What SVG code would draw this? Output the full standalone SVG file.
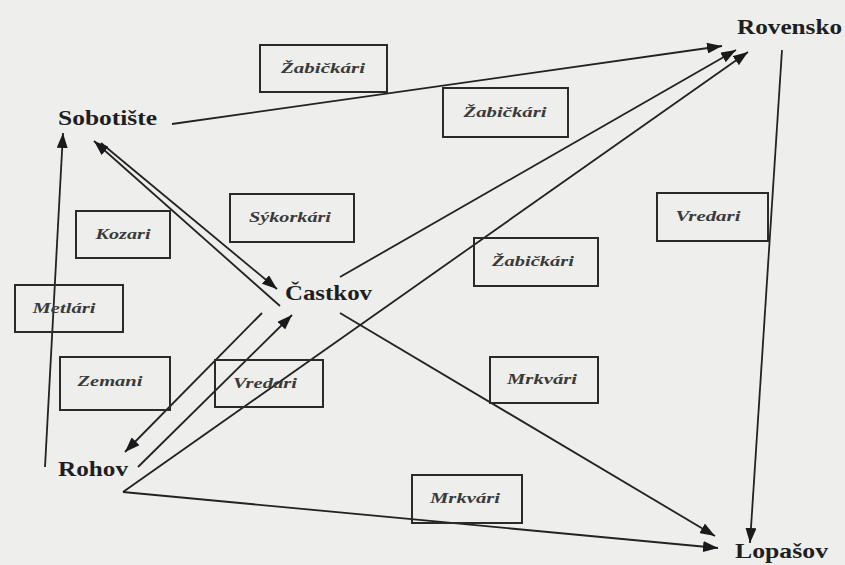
<svg xmlns="http://www.w3.org/2000/svg" width="845" height="565" viewBox="0 0 845 565">
<style>
.bg{fill:#eeeeec}
.box{fill:none;stroke:#2a2a2a;stroke-width:2}
.lbl{font-family:"Liberation Serif","DejaVu Serif",serif;font-style:italic;font-weight:bold;font-size:14px;fill:#3a3a3a;text-anchor:middle}
.node{font-family:"Liberation Serif","DejaVu Serif",serif;font-weight:bold;font-size:21px;fill:#1e1e1e}
.edge{stroke:#222;stroke-width:1.8;fill:none}
.arr{stroke:#222;stroke-width:1.8;fill:none;marker-end:url(#ah)}
</style>
<defs>
<marker id="ah" markerUnits="userSpaceOnUse" markerWidth="16" markerHeight="11" refX="15" refY="5.5" orient="auto">
<path d="M0,0 L15,5.5 L0,11 z" fill="#1a1a1a"/>
</marker>
</defs>
<rect class="bg" x="0" y="0" width="845" height="565"/>

<g id="connectors">
<line class="arr" x1="172" y1="124" x2="722" y2="46"/>
<line class="arr" x1="340" y1="277" x2="736" y2="50"/>
<line class="arr" x1="123" y1="492" x2="748" y2="52"/>
<line class="arr" x1="138" y1="467" x2="292" y2="315"/>
<line class="arr" x1="262" y1="313" x2="125" y2="452"/>
<line class="arr" x1="101" y1="143" x2="277" y2="289"/>
<line class="arr" x1="280" y1="306" x2="94" y2="141"/>
<line class="arr" x1="45" y1="467" x2="63" y2="133"/>
<line class="arr" x1="782" y1="50" x2="750" y2="543"/>
<line class="arr" x1="340" y1="313" x2="715" y2="536"/>
<line class="arr" x1="123" y1="492" x2="718" y2="548"/>
</g>

<g id="n-sobotiste"><text class="node" x="58" y="125" textLength="99" lengthAdjust="spacingAndGlyphs">Sobotište</text></g>
<g id="n-rovensko"><text class="node" x="737" y="34" textLength="105" lengthAdjust="spacingAndGlyphs">Rovensko</text></g>
<g id="n-castkov"><text class="node" x="285" y="300" textLength="87" lengthAdjust="spacingAndGlyphs">Častkov</text></g>
<g id="n-rohov"><text class="node" x="58" y="476" textLength="70" lengthAdjust="spacingAndGlyphs">Rohov</text></g>
<g id="n-lopasov"><text class="node" x="735" y="558" textLength="93" lengthAdjust="spacingAndGlyphs">Lopašov</text></g>

<g id="b-zabickari1"><rect class="box" x="260" y="45" width="127" height="47"/><text class="lbl" x="323" y="73" textLength="84" lengthAdjust="spacingAndGlyphs">Žabičkári</text></g>
<g id="b-zabickari2"><rect class="box" x="443" y="88" width="125" height="49"/><text class="lbl" x="505" y="117" textLength="83" lengthAdjust="spacingAndGlyphs">Žabičkári</text></g>
<g id="b-sykorkari"><rect class="box" x="230" y="194" width="124" height="48"/><text class="lbl" x="290" y="222" textLength="82" lengthAdjust="spacingAndGlyphs">Sýkorkári</text></g>
<g id="b-kozari"><rect class="box" x="76" y="211" width="94" height="47"/><text class="lbl" x="123" y="239" textLength="55" lengthAdjust="spacingAndGlyphs">Kozari</text></g>
<g id="b-metlari"><rect class="box" x="15" y="285" width="108" height="47"/><text class="lbl" x="64" y="313" textLength="63" lengthAdjust="spacingAndGlyphs">Metlári</text></g>
<g id="b-vredari1"><rect class="box" x="657" y="193" width="111" height="48"/><text class="lbl" x="708" y="221" textLength="65" lengthAdjust="spacingAndGlyphs">Vredari</text></g>
<g id="b-zabickari3"><rect class="box" x="474" y="238" width="124" height="48"/><text class="lbl" x="533" y="266" textLength="82" lengthAdjust="spacingAndGlyphs">Žabičkári</text></g>
<g id="b-mrkvari1"><rect class="box" x="490" y="357" width="108" height="46"/><text class="lbl" x="542" y="384" textLength="70" lengthAdjust="spacingAndGlyphs">Mrkvári</text></g>
<g id="b-zemani"><rect class="box" x="60" y="357" width="110" height="53"/><text class="lbl" x="110" y="386" textLength="65" lengthAdjust="spacingAndGlyphs">Zemani</text></g>
<g id="b-vredari2"><rect class="box" x="215" y="360" width="108" height="47"/><text class="lbl" x="265" y="388" textLength="64" lengthAdjust="spacingAndGlyphs">Vredari</text></g>
<g id="b-mrkvari2"><rect class="box" x="412" y="475" width="110" height="48"/><text class="lbl" x="465" y="503" textLength="70" lengthAdjust="spacingAndGlyphs">Mrkvári</text></g>
</svg>
